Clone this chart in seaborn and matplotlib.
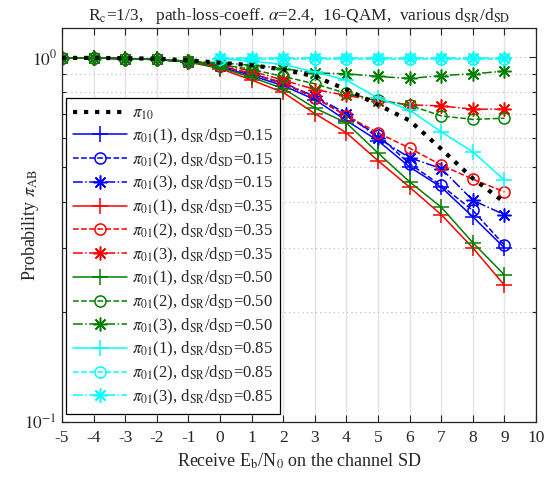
import matplotlib
matplotlib.use("Agg")
import matplotlib.pyplot as plt
import matplotlib.ticker as mticker
import seaborn as sns

# --- Data ---
ebn0 = [-5, -4, -3, -2, -1, 0, 1, 2, 3, 4, 5, 6, 7, 8, 9]
ebn0_085 = [0, 1, 2, 3, 4, 5, 6, 7, 8, 9]

pi10 = [0.995, 0.995, 0.993, 0.99, 0.98, 0.965, 0.95, 0.925, 0.885, 0.815, 0.74, 0.67, 0.56, 0.465, 0.40]

pi01_1_015 = [0.995, 0.995, 0.99, 0.985, 0.97, 0.94, 0.89, 0.835, 0.765, 0.67, 0.59, 0.50, 0.44, 0.365, 0.30]
pi01_2_015 = [0.995, 0.995, 0.99, 0.985, 0.97, 0.945, 0.90, 0.845, 0.775, 0.69, 0.61, 0.51, 0.445, 0.38, 0.305]
pi01_3_015 = [0.995, 0.995, 0.99, 0.985, 0.97, 0.945, 0.90, 0.85, 0.78, 0.70, 0.60, 0.53, 0.495, 0.405, 0.37]

pi01_1_035 = [0.995, 0.995, 0.99, 0.985, 0.97, 0.93, 0.865, 0.80, 0.70, 0.62, 0.52, 0.44, 0.37, 0.30, 0.237]
pi01_2_035 = [0.995, 0.995, 0.99, 0.985, 0.97, 0.945, 0.90, 0.85, 0.775, 0.69, 0.62, 0.563, 0.506, 0.463, 0.427]
pi01_3_035 = [0.995, 0.995, 0.99, 0.985, 0.975, 0.955, 0.915, 0.865, 0.815, 0.785, 0.76, 0.74, 0.735, 0.72, 0.72]

pi01_1_050 = [0.995, 0.995, 0.99, 0.985, 0.97, 0.935, 0.88, 0.82, 0.725, 0.66, 0.546, 0.455, 0.388, 0.31, 0.253]
pi01_2_050 = [0.995, 0.995, 0.99, 0.985, 0.975, 0.955, 0.925, 0.885, 0.845, 0.795, 0.763, 0.738, 0.69, 0.675, 0.68]
pi01_3_050 = [0.995, 0.995, 0.99, 0.985, 0.975, 0.965, 0.95, 0.93, 0.905, 0.90, 0.885, 0.874, 0.89, 0.90, 0.915]

pi01_1_085 = [0.99, 0.975, 0.955, 0.91, 0.865, 0.772, 0.716, 0.624, 0.55, 0.46]
pi01_2_085 = [0.99, 0.99, 0.99, 0.99, 0.99, 0.99, 0.99, 0.99, 0.99, 0.99]
pi01_3_085 = [0.995, 0.995, 0.995, 0.995, 0.995, 0.995, 0.995, 0.995, 0.995, 0.995]

ratio_colors = {"0.15": "#0000ff", "0.35": "#ff0000", "0.50": "#008000", "0.85": "#00ffff"}

# pi01 index -> linestyle, marker, markersize, fillstyle (MATLAB-like '+', 'o', '*')
STYLES = {
    1: ("-", "+", 11, "full"),
    2: ("--", "o", 8, "none"),
    3: ("-.", (8, 2, 0), 10, "full"),
}

series = [
    ("0.15", 1, ebn0, pi01_1_015), ("0.15", 2, ebn0, pi01_2_015), ("0.15", 3, ebn0, pi01_3_015),
    ("0.35", 1, ebn0, pi01_1_035), ("0.35", 2, ebn0, pi01_2_035), ("0.35", 3, ebn0, pi01_3_035),
    ("0.50", 1, ebn0, pi01_1_050), ("0.50", 2, ebn0, pi01_2_050), ("0.50", 3, ebn0, pi01_3_050),
    ("0.85", 1, ebn0_085, pi01_1_085), ("0.85", 2, ebn0_085, pi01_2_085), ("0.85", 3, ebn0_085, pi01_3_085),
]

sns.set_style("ticks")
plt.rcParams["font.family"] = ["Liberation Serif", "DejaVu Serif"]
plt.rcParams["mathtext.fontset"] = "stix"
plt.rcParams["axes.unicode_minus"] = False

fig = plt.figure(figsize=(5.59, 4.78), dpi=100)
ax = fig.add_axes([0.111, 0.117, 0.848, 0.824])

sns.lineplot(x=ebn0, y=pi10, ax=ax, color="black", linestyle=":", linewidth=3,
             label=r"$\pi_{10}$", zorder=3)

for ratio, idx, xs, ys in series:
    ls, mk, ms, fill = STYLES[idx]
    col = ratio_colors[ratio]
    sns.lineplot(x=xs, y=ys, ax=ax, color=col, linestyle=ls, linewidth=1.1,
                 marker=mk, markersize=ms, fillstyle=fill,
                 markeredgecolor=col, markeredgewidth=1.1,
                 label=r"$\pi_{01}$(%d), d$_{\rm SR}$/d$_{\rm SD}$=%s" % (idx, ratio))

ax.set_yscale("log")
ax.set_xlim(-5, 10)
ax.set_ylim(0.1, 1.2)
ax.set_xticks(range(-5, 11))
ax.yaxis.set_major_locator(mticker.FixedLocator([0.1, 1.0]))
ax.yaxis.set_major_formatter(mticker.FixedFormatter([r"$10^{-1}$", r"$10^{0}$"]))
ax.yaxis.set_minor_locator(mticker.FixedLocator([0.2, 0.3, 0.4, 0.5, 0.6, 0.7, 0.8, 0.9]))
ax.yaxis.set_minor_formatter(mticker.NullFormatter())

ax.tick_params(which="both", direction="in", top=True, right=True, labelsize=12.5)
ax.tick_params(which="major", length=5, width=0.8)
ax.tick_params(which="minor", length=3, width=0.8)
ax.tick_params(axis="x", pad=6)

ax.grid(True, axis="x", which="major", color="#e3e3e3", linestyle="-", linewidth=1)
ax.grid(True, axis="y", which="both", color="#b8b8b8", linestyle=(0, (1, 3)), linewidth=0.8)
ax.set_axisbelow(True)
for sp in ax.spines.values():
    sp.set_linewidth(0.9)

ax.set_title(r"R$_{\rm c}$=1/3,   path-loss-coeff. $\alpha$=2.4,  16-QAM,  various d$_{\rm SR}$/d$_{\rm SD}$",
             fontsize=12.5, pad=6)
ax.set_xlabel(r"Receive E$_{\rm b}$/N$_{0}$ on the channel SD", fontsize=13)
ax.set_ylabel(r"Probability $\pi_{\rm AB}$", fontsize=13)
ax.yaxis.set_label_coords(-0.045, 0.5)

leg = ax.legend(loc="upper left", bbox_to_anchor=(0.008, 0.822), borderaxespad=0,
                fontsize=12, handlelength=3.2, labelspacing=0.27, borderpad=0.45,
                handletextpad=0.3, fancybox=False, framealpha=1, edgecolor="black")
leg.get_frame().set_linewidth(0.9)

fig.savefig("out.png", dpi=100)
